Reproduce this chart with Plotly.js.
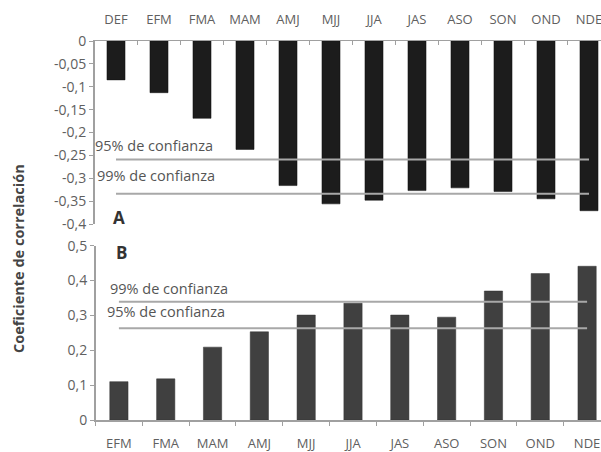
<!DOCTYPE html>
<html>
<head>
<meta charset="utf-8">
<script src="https://cdn.plot.ly/plotly-3.0.1.min.js"></script>
<style>html,body{margin:0;padding:0;overflow:hidden;background:#fff;}#chart{width:612px;height:452px;}</style>
</head>
<body>
<div id="chart"></div>
<script>
// Panel A (top)
const catsA = ['DEF','EFM','FMA','MAM','AMJ','MJJ','JJA','JAS','ASO','SON','OND','NDE'];
const valsA = [-0.085,-0.113,-0.169,-0.237,-0.316,-0.356,-0.348,-0.327,-0.321,-0.329,-0.345,-0.371];
const conf95A = -0.259;
const conf99A = -0.334;
const yTickValsA = [0,-0.05,-0.1,-0.15,-0.2,-0.25,-0.3,-0.35,-0.4];
const yTickTextA = ['0','-0,05','-0,1','-0,15','-0,2','-0,25','-0,3','-0,35','-0,4'];

// Panel B (bottom)
const catsB = ['EFM','FMA','MAM','AMJ','MJJ','JJA','JAS','ASO','SON','OND','NDE'];
const valsB = [0.110,0.118,0.209,0.253,0.301,0.335,0.301,0.295,0.370,0.420,0.441];
const conf95B = 0.263;
const conf99B = 0.339;
const yTickValsB = [0,0.1,0.2,0.3,0.4,0.5];
const yTickTextB = ['0','0,1','0,2','0,3','0,4','0,5'];

const W = 612, H = 452;
const lineCol = '#a8a8a8';
const axCol = '#a0a0a0';
const tickFont = {family:'Open Sans, sans-serif', size:13, color:'#606060'};
const yTickFont = {family:'Open Sans, sans-serif', size:14, color:'#606060'};
const txtFont = {family:'Open Sans, sans-serif', size:14.5, color:'#555555'};

const traces = [
  {type:'bar', x:catsA, y:valsA, xaxis:'x', yaxis:'y', width:0.42,
   marker:{color:'#1c1c1c', line:{color:'#111', width:0.5}}, hoverinfo:'skip'},
  {type:'scatter', mode:'lines', x:[catsA[0], catsA[catsA.length-1]], y:[conf95A, conf95A],
   xaxis:'x', yaxis:'y', line:{color:lineCol, width:2}},
  {type:'scatter', mode:'lines', x:[catsA[0], catsA[catsA.length-1]], y:[conf99A, conf99A],
   xaxis:'x', yaxis:'y', line:{color:lineCol, width:2}},
  {type:'bar', x:catsB, y:valsB, xaxis:'x2', yaxis:'y2', width:0.39,
   marker:{color:'#404040', line:{color:'#333', width:0.5}}, hoverinfo:'skip'},
  {type:'scatter', mode:'lines', x:[catsB[0], catsB[catsB.length-1]], y:[conf99B, conf99B],
   xaxis:'x2', yaxis:'y2', line:{color:lineCol, width:2}},
  {type:'scatter', mode:'lines', x:[catsB[0], catsB[catsB.length-1]], y:[conf95B, conf95B],
   xaxis:'x2', yaxis:'y2', line:{color:lineCol, width:2}}
];

const px = v => v / W;
const py = v => 1 - v / H;

const layout = {
  width: W, height: H,
  margin: {l:0, r:0, t:0, b:0},
  paper_bgcolor:'#fff', plot_bgcolor:'#fff',
  showlegend:false,
  separators:', ',
  xaxis: {domain:[px(94.5), px(610.5)], anchor:'y', side:'top', type:'category',
    showline:true, linecolor:axCol, linewidth:1.5, ticks:'inside', ticklen:4, tickcolor:axCol,
    tickson:'boundaries', tickfont:tickFont, ticklabelstandoff:10, showgrid:false, zeroline:false, fixedrange:true},
  yaxis: {domain:[py(224), py(41)], anchor:'x', range:[-0.4, 0],
    tickvals:yTickValsA, ticktext:yTickTextA, showline:true, linecolor:axCol, linewidth:1.5,
    ticks:'outside', ticklen:4, tickcolor:axCol, tickfont:yTickFont, showgrid:false, zeroline:false},
  xaxis2: {domain:[px(95.5), px(610.5)], anchor:'y2', side:'bottom', type:'category',
    showline:true, linecolor:axCol, linewidth:1.5, ticks:'outside', ticklen:4, tickcolor:axCol,
    tickson:'boundaries', tickfont:tickFont, ticklabelstandoff:11, showgrid:false, zeroline:false},
  yaxis2: {domain:[py(420), py(245.7)], anchor:'x2', range:[0, 0.5],
    tickvals:yTickValsB, ticktext:yTickTextB, showline:true, linecolor:axCol, linewidth:1.5,
    ticks:'outside', ticklen:4, tickcolor:axCol, tickfont:yTickFont, showgrid:false, zeroline:false},
  annotations: [
    {text:'95% de confianza', xref:'paper', yref:'paper', x:px(93), y:py(146), xanchor:'left', yanchor:'middle', showarrow:false, font:txtFont},
    {text:'99% de confianza', xref:'paper', yref:'paper', x:px(95), y:py(176), xanchor:'left', yanchor:'middle', showarrow:false, font:txtFont},
    {text:'<b>A</b>', xref:'paper', yref:'paper', x:px(119), y:py(217), xanchor:'center', yanchor:'middle', showarrow:false, font:{family:'Open Sans, sans-serif', size:17, color:'#333'}},
    {text:'99% de confianza', xref:'paper', yref:'paper', x:px(108), y:py(288), xanchor:'left', yanchor:'middle', showarrow:false, font:txtFont},
    {text:'95% de confianza', xref:'paper', yref:'paper', x:px(105), y:py(311), xanchor:'left', yanchor:'middle', showarrow:false, font:txtFont},
    {text:'<b>B</b>', xref:'paper', yref:'paper', x:px(121), y:py(252), xanchor:'center', yanchor:'middle', showarrow:false, font:{family:'Open Sans, sans-serif', size:17, color:'#333'}},
    {text:'<b>Coeficiente de correlación</b>', xref:'paper', yref:'paper', x:px(18), y:py(259), xanchor:'center', yanchor:'middle', textangle:-90, showarrow:false, font:{family:'Open Sans, sans-serif', size:14.5, color:'#444'}}
  ]
};

Plotly.newPlot('chart', traces, layout, {displayModeBar:false, staticPlot:true});
</script>
</body>
</html>
